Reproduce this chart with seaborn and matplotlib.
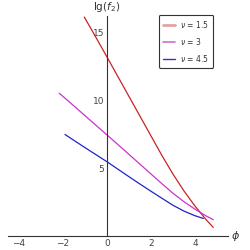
import matplotlib
matplotlib.use('Agg')
import matplotlib.pyplot as plt
from matplotlib.lines import Line2D
import numpy as np
import pandas as pd
import seaborn as sns

# Curvas (phi, lg f2)
phi_15 = [-1.03, -0.5, 0, 0.5, 1, 1.5, 2, 2.5, 3, 3.5, 4, 4.5, 4.83]
lgf_15 = [16.1, 14.6, 13.16, 11.71, 10.26, 8.81, 7.36, 5.91, 4.55, 3.31, 2.2, 1.21, 0.63]

phi_3 = [-2.17, -1.5, -1, -0.5, 0, 0.5, 1, 1.5, 2, 2.5, 3, 3.5, 4, 4.5, 4.83]
lgf_3 = [10.5, 9.56, 8.85, 8.14, 7.43, 6.72, 6.0, 5.28, 4.56, 3.84, 3.14, 2.52, 1.97, 1.48, 1.2]

phi_45 = [-1.91, -1.5, -1, -0.5, 0, 0.5, 1, 1.5, 2, 2.5, 3, 3.5, 4, 4.38]
lgf_45 = [7.47, 7.03, 6.5, 5.98, 5.46, 4.91, 4.36, 3.82, 3.29, 2.77, 2.26, 1.83, 1.49, 1.29]

series_labels = [r'$\nu$ = 1.5', r'$\nu$ = 3', r'$\nu$ = 4.5']
line_colors = ['#CC2222', '#CC33CC', '#2222CC']
legend_colors = ['#E3A3A3', '#D070D0', '#3333CC']

x_ticks = [-4, -2, 0, 2, 4]
y_ticks = [5, 10, 15]


def build_frame():
    parts = []
    for lab, xs, ys in zip(series_labels, [phi_15, phi_3, phi_45], [lgf_15, lgf_3, lgf_45]):
        parts.append(pd.DataFrame({'phi': xs, 'lgf': ys, 'serie': lab}))
    return pd.concat(parts, ignore_index=True)


def main():
    sns.set_style("white")
    plt.rcParams['font.family'] = ['DejaVu Sans']
    plt.rcParams['mathtext.fontset'] = 'dejavusans'

    df = build_frame()
    fig = plt.figure(figsize=(2.5, 2.5), dpi=100)
    ax = fig.add_axes([0.032, 0.056, 0.88, 0.88])

    sns.lineplot(data=df, x='phi', y='lgf', hue='serie', hue_order=series_labels,
                 palette=dict(zip(series_labels, line_colors)), sort=False,
                 estimator=None, linewidth=0.9, legend=False, ax=ax)

    ax.set_xlim(-4.5, 5.5)
    ax.set_ylim(0, 16.18)

    # ejes cruzando en el origen, estilo Mathematica
    ax.spines['left'].set_position(('data', 0))
    ax.spines['bottom'].set_position(('data', 0))
    ax.spines['top'].set_visible(False)
    ax.spines['right'].set_visible(False)
    for s in ['left', 'bottom']:
        ax.spines[s].set_color('#333333')
        ax.spines[s].set_linewidth(0.8)

    ax.set_xticks(x_ticks)
    ax.set_xticklabels([str(t).replace('-', '\u2212') for t in x_ticks])
    ax.set_yticks(y_ticks)
    ax.set_yticklabels([str(t) for t in y_ticks])
    ax.set_xticks(np.arange(-4.5, 5.01, 0.5), minor=True)
    ax.set_yticks(np.arange(1, 16.1, 1), minor=True)
    ax.tick_params(which='major', direction='in', length=3.5, width=0.6,
                   color='#999999', labelsize=6.5, labelcolor='#444444', pad=2)
    ax.tick_params(which='minor', direction='in', length=2, width=0.5, color='#aaaaaa')
    ax.set_xlabel('')
    ax.set_ylabel('')

    ax.text(0, 16.85, r'$\mathrm{lg}(f_2)$', ha='center', va='center',
            fontsize=7.5, color='#333333', clip_on=False)
    ax.text(5.86, 0, r'$\phi$', ha='center', va='center', fontsize=8,
            color='#333333', clip_on=False)

    handles = [Line2D([0], [0], color=c, lw=w) for c, w in zip(legend_colors, [2.0, 1.2, 1.0])]
    leg = ax.legend(handles, series_labels, loc='upper left', bbox_to_anchor=(0.686, 1.005),
                    fontsize=5.5, frameon=True, fancybox=True, edgecolor='#333333',
                    handlelength=1.6, handletextpad=0.6, labelspacing=0.75,
                    borderpad=0.55, borderaxespad=0, framealpha=1)
    leg.get_frame().set_linewidth(0.8)
    for t in leg.get_texts():
        t.set_color('#333333')

    fig.savefig('out.png', dpi=100)
    plt.close(fig)


if __name__ == '__main__':
    main()
